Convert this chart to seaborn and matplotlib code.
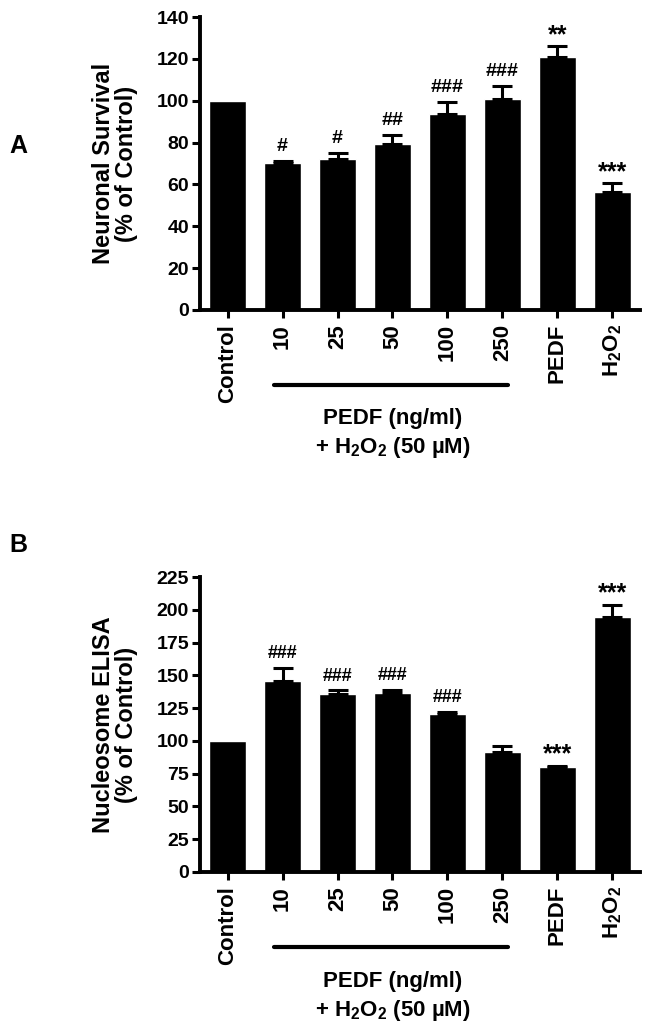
import numpy as np
import matplotlib
matplotlib.use("Agg")
import matplotlib.pyplot as plt
import seaborn as sns

# --- données ---
groupes = ["Control", "10", "25", "50", "100", "250", "PEDF", "H$_2$O$_2$"]

survie_moy = [100, 70.0, 72.2, 79.1, 93.5, 100.7, 120.7, 56.6]
survie_sem = [0, 1.3, 3.0, 4.6, 5.9, 6.4, 5.3, 3.9]
survie_sig = ["", "#", "#", "##", "###", "###", "**", "***"]

elisa_moy = [100, 145.7, 136.0, 136.8, 120.8, 91.5, 80.1, 194.5]
elisa_sem = [0, 9.9, 2.6, 2.3, 1.2, 4.9, 1.0, 9.4]
elisa_sig = ["", "###", "###", "###", "###", "", "***", "***"]

sns.set_theme(style="ticks")
plt.rcParams["font.family"] = ["Liberation Sans", "DejaVu Sans"]
plt.rcParams["font.weight"] = "bold"
plt.rcParams["mathtext.fontset"] = "custom"
plt.rcParams["mathtext.rm"] = "Liberation Sans:bold"
plt.rcParams["mathtext.it"] = "Liberation Sans:bold"
plt.rcParams["mathtext.bf"] = "Liberation Sans:bold"
for k in ["text.color", "axes.labelcolor", "xtick.color", "ytick.color", "axes.edgecolor"]:
    plt.rcParams[k] = "black"

W, H = 649, 1036
fig = plt.figure(figsize=(W / 100, H / 100), dpi=100)


def panneau(rect, moy, sem, sig, ymax, pas, ylabel, lettre, lettre_y, taille_diese):
    ax = fig.add_axes(rect)
    sns.barplot(x=groupes, y=moy, color="black", saturation=1, width=0.67,
                errorbar=None, ax=ax)
    # barres d'erreur (vers le haut seulement)
    x = np.arange(len(groupes))
    ax.errorbar(x[1:], moy[1:], yerr=[np.zeros(len(x) - 1), sem[1:]], fmt="none",
                ecolor="black", elinewidth=2.2, capsize=7, capthick=2.2)
    # étoiles / dièses
    for i, s in enumerate(sig):
        if not s:
            continue
        haut = moy[i] + sem[i]
        if "*" in s:
            ax.annotate(s, (i, haut), xytext=(0, 3), textcoords="offset points",
                        ha="center", va="baseline", fontsize=18, fontweight="bold")
        else:
            ax.annotate(s, (i, haut), xytext=(0, 7), textcoords="offset points",
                        ha="center", va="baseline", fontsize=taille_diese, fontweight="bold")

    ax.set_xlim(-0.5, 7.5)
    ax.set_ylim(0, ymax)
    ax.set_yticks(np.arange(0, ymax + 1, pas))
    ax.tick_params(axis="y", labelsize=14, width=2.2, length=6, pad=2)
    ax.tick_params(axis="x", labelsize=16, width=2.2, length=6, pad=4, labelrotation=90)
    for t in ax.get_xticklabels() + ax.get_yticklabels():
        t.set_fontweight("bold")
    sns.despine(ax=ax)
    for sp in ["left", "bottom"]:
        ax.spines[sp].set_linewidth(2.8)
    ax.set_xlabel("")
    ax.set_ylabel("")

    # trait sous les concentrations
    ax.plot([0.85, 5.1], [-0.255, -0.255], color="black", lw=3,
            transform=ax.get_xaxis_transform(), clip_on=False)
    ax.text(3.0, -0.37, "PEDF (ng/ml)", transform=ax.get_xaxis_transform(),
            ha="center", va="center", fontsize=16, fontweight="bold")
    ax.text(3.0, -0.47, "+ H$_2$O$_2$ (50 µM)", transform=ax.get_xaxis_transform(),
            ha="center", va="center", fontsize=16, fontweight="bold")

    # titre de l'axe y et lettre du panneau
    yc = rect[1] + rect[3] / 2
    fig.text(115 / W, yc, ylabel, rotation=90, ha="center", va="center",
             fontsize=17, fontweight="bold", linespacing=1.05, multialignment="center")
    fig.text(18 / W, 1 - lettre_y / H, lettre, ha="center", va="center",
             fontsize=18, fontweight="bold")
    return ax


panneau([200 / W, 1 - 310 / H, 440 / W, 293 / H], survie_moy, survie_sem, survie_sig,
        140, 20, "Neuronal Survival\n(% of Control)", "A", 146, 14)
panneau([200 / W, 1 - 872 / H, 440 / W, 295 / H], elisa_moy, elisa_sem, elisa_sig,
        225, 25, "Nucleosome ELISA\n(% of Control)", "B", 545, 13)

plt.savefig("out.png", dpi=100)
